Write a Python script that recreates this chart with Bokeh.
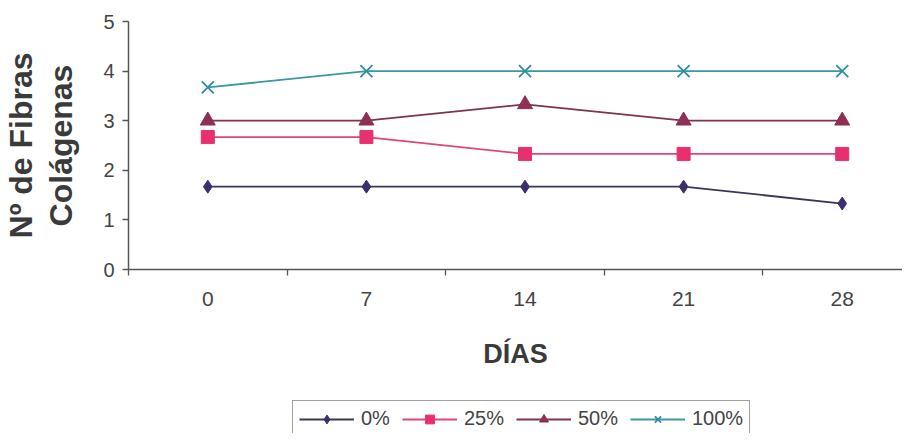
from bokeh.plotting import figure
from bokeh.layouts import column
from bokeh.models import Range1d, FixedTicker, Legend, LegendItem
from bokeh.embed import file_html
from bokeh.resources import INLINE

# ---- data ----
days = ["0", "7", "14", "21", "28"]
series_names = ["0%", "25%", "50%", "100%"]
fib_0 = [1.67, 1.67, 1.67, 1.67, 1.33]
fib_25 = [2.67, 2.67, 2.33, 2.33, 2.33]
fib_50 = [3.0, 3.0, 3.33, 3.0, 3.0]
fib_100 = [3.67, 4.0, 4.0, 4.0, 4.0]
y_ticks = [0, 1, 2, 3, 4, 5]

x = list(range(len(days)))
bounds = [i - 0.5 for i in range(len(days) + 1)]

FONT = "Liberation Sans"
TXT = "#3a3a3a"

p = figure(width=902, height=400, output_backend="svg", toolbar_location=None,
           x_range=Range1d(-0.5, 4.38), y_range=Range1d(0, 5),
           min_border_left=121, min_border_right=0, min_border_top=21,
           min_border_bottom=131)
p.outline_line_color = None
p.grid.visible = False
p.background_fill_color = "white"
p.border_fill_color = "white"

# x axis
xa = p.xaxis[0]
xa.ticker = FixedTicker(ticks=x, minor_ticks=bounds)
xa.major_label_overrides = {i: d for i, d in zip(x, days)}
xa.major_tick_out = 0
xa.major_tick_in = 0
xa.minor_tick_out = 6
xa.minor_tick_in = 0
xa.minor_tick_line_color = "#555555"
xa.minor_tick_line_width = 1.3
xa.axis_line_color = "#555555"
xa.axis_line_width = 1.5
xa.major_label_text_font = FONT
xa.major_label_text_font_size = "21px"
xa.major_label_text_color = "#444444"
xa.major_label_standoff = 16
xa.axis_label = "DÍAS"
xa.axis_label_text_font = FONT
xa.axis_label_text_font_style = "bold"
xa.axis_label_text_font_size = "27px"
xa.axis_label_text_color = TXT
xa.axis_label_standoff = 30

# y axis
ya = p.yaxis[0]
ya.ticker = FixedTicker(ticks=y_ticks)
ya.minor_tick_line_color = None
ya.major_tick_out = 6
ya.major_tick_in = 0
ya.major_tick_line_color = "#555555"
ya.major_tick_line_width = 1.3
ya.axis_line_color = "#555555"
ya.axis_line_width = 1.5
ya.major_label_text_font = FONT
ya.major_label_text_font_size = "20px"
ya.major_label_text_color = "#444444"
ya.major_label_standoff = 8
ya.axis_label = "Nº de Fibras\nColágenas"
ya.axis_label_text_font = FONT
ya.axis_label_text_font_style = "bold"
ya.axis_label_text_font_size = "32px"
ya.axis_label_text_line_height = 1.12
ya.axis_label_text_color = TXT
ya.axis_label_standoff = 21

styles = [
    (fib_0, "#3b3558", "diamond", "#3d2f6e", 13),
    (fib_25, "#e0457a", "square", "#e8306e", 13),
    (fib_50, "#7e3350", "triangle", "#8e2f55", 15),
    (fib_100, "#3a97a6", "x", "#2f8f9f", 17),
]


def draw_series(fig, visible=True):
    out = []
    for name, (vals, lc, mk, mc, sz) in zip(series_names, styles):
        lr = fig.line(x, vals, line_color=lc, line_width=1.8, visible=visible)
        if mk == "x":
            sr = fig.scatter(x, vals, marker=mk, size=sz, line_color=mc,
                             line_width=1.8, visible=visible)
        else:
            sr = fig.scatter(x, vals, marker=mk, size=sz,
                             fill_color=mc, line_color=mc, visible=visible)
        out.append(LegendItem(label=name, renderers=[lr, sr]))
    return out


draw_series(p)

# legend strip below the chart
q = figure(width=902, height=33, output_backend="svg", toolbar_location=None,
           x_range=Range1d(-0.5, 4.38), y_range=Range1d(0, 5),
           x_axis_type=None, y_axis_type=None,
           min_border_left=0, min_border_right=0, min_border_top=0,
           min_border_bottom=0)
q.outline_line_color = None
q.grid.visible = False
q.background_fill_color = "white"
q.border_fill_color = "white"
items = draw_series(q, visible=False)

legend = Legend(items=items, orientation="horizontal", location=(164, -4),
                glyph_width=55, glyph_height=22, label_standoff=7, spacing=12,
                padding=6, margin=0,
                label_text_font=FONT, label_text_font_size="20px",
                label_text_color="#444444",
                border_line_color="#444444", border_line_width=1.5,
                background_fill_color="white", background_fill_alpha=1.0)
q.add_layout(legend, "center")

layout = column(p, q, spacing=0)
open("out.html", "w").write(file_html(layout, INLINE))
